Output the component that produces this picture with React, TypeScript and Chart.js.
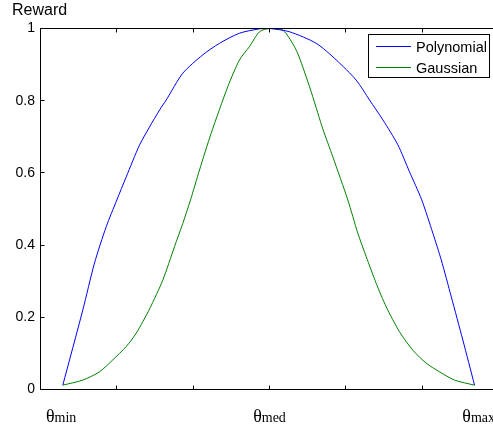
import { useEffect, useRef } from "react";
import { Chart, registerables } from "chart.js";

Chart.register(...registerables);

// Data (x in tick units, 0..6 across the axes box)
const polyX = [0.292, 0.554, 0.707, 0.861, 1.0, 1.123, 1.297, 1.428, 1.559, 1.647, 1.864, 2.126, 2.345, 2.607, 2.869, 3.0, 3.262, 3.612, 3.874, 4.136, 4.31, 4.485, 4.681, 4.834, 4.991, 5.14, 5.25, 5.381, 5.533, 5.686];
const polyY = [0.012, 0.22, 0.35, 0.451, 0.525, 0.589, 0.677, 0.727, 0.774, 0.802, 0.876, 0.927, 0.959, 0.987, 0.999, 1.0, 0.991, 0.959, 0.913, 0.857, 0.802, 0.747, 0.678, 0.603, 0.527, 0.433, 0.359, 0.257, 0.137, 0.012];
const gaussX = [0.292, 0.554, 0.773, 0.947, 1.123, 1.254, 1.428, 1.602, 1.756, 1.864, 1.965, 2.083, 2.236, 2.454, 2.607, 2.738, 2.869, 3.0, 3.174, 3.35, 3.481, 3.567, 3.698, 3.829, 4.026, 4.157, 4.267, 4.398, 4.529, 4.703, 4.877, 5.053, 5.227, 5.424, 5.686];
const gaussY = [0.012, 0.026, 0.049, 0.082, 0.119, 0.156, 0.223, 0.303, 0.396, 0.46, 0.525, 0.608, 0.71, 0.839, 0.913, 0.95, 0.991, 1.0, 0.996, 0.94, 0.866, 0.811, 0.722, 0.645, 0.525, 0.433, 0.368, 0.294, 0.229, 0.16, 0.109, 0.073, 0.049, 0.026, 0.012];

const seriesNames = ["Polynomial", "Gaussian"];
const seriesColors = ["#0000ff", "#008000"];
const yTicks = [0, 0.2, 0.4, 0.6, 0.8, 1];
const xTicks = [1, 2, 3, 4, 5];
const thetaPositions = [0.27, 3, 5.74];
const thetaSubs = ["min", "med", "max"];
const yTitle = "Reward";

const SANS = "'Liberation Sans', Arial, sans-serif";
const SERIF = "'Liberation Serif', 'Times New Roman', serif";

const CANVAS_W = 560;
const CANVAS_H = 429;

const matlabPlugin = {
  id: "matlabDecor",
  afterDatasetsDraw(chart: any) {
    const { ctx, chartArea: a, scales } = chart;
    const x = scales.x;
    const y = scales.y;
    ctx.save();
    ctx.strokeStyle = "#000";
    ctx.lineWidth = 1;
    // inward tick marks
    ctx.beginPath();
    for (const v of xTicks) {
      const px = Math.floor(x.getPixelForValue(v)) + 0.5;
      ctx.moveTo(px, a.bottom);
      ctx.lineTo(px, a.bottom - 4);
      ctx.moveTo(px, a.top);
      ctx.lineTo(px, a.top + 4);
    }
    for (const v of yTicks) {
      const py = Math.floor(y.getPixelForValue(v)) + 0.5;
      ctx.moveTo(a.left, py);
      ctx.lineTo(a.left + 4, py);
      ctx.moveTo(a.right, py);
      ctx.lineTo(a.right - 4, py);
    }
    ctx.stroke();
    // axes box
    ctx.strokeRect(a.left, a.top, a.right - a.left, a.bottom - a.top);

    // legend
    const lx = a.right - 130;
    const ly = a.top + 6;
    const lw = 121;
    const lh = 43;
    ctx.fillStyle = "#fff";
    ctx.fillRect(lx, ly, lw, lh);
    ctx.strokeStyle = "#000";
    ctx.strokeRect(lx, ly, lw, lh);
    ctx.font = `14.5px ${SANS}`;
    ctx.textAlign = "left";
    ctx.textBaseline = "alphabetic";
    seriesNames.forEach((name, i) => {
      const rowY = ly + 11.5 + i * 21.3;
      ctx.strokeStyle = seriesColors[i];
      ctx.beginPath();
      ctx.moveTo(lx + 7.5, Math.floor(rowY) + 0.5);
      ctx.lineTo(lx + 42.5, Math.floor(rowY) + 0.5);
      ctx.stroke();
      ctx.fillStyle = "#000";
      ctx.fillText(name, lx + 47.5, rowY + 5.5);
    });

    // theta labels under x axis
    ctx.fillStyle = "#000";
    thetaPositions.forEach((pos, i) => {
      const cx = x.getPixelForValue(pos);
      ctx.font = `18px ${SERIF}`;
      const w1 = ctx.measureText("\u03b8").width;
      ctx.font = `14px ${SERIF}`;
      const w2 = ctx.measureText(thetaSubs[i]).width;
      const start = cx - (w1 + w2) / 2;
      ctx.font = `18px ${SERIF}`;
      ctx.fillText("\u03b8", start, 421.5);
      ctx.font = `14px ${SERIF}`;
      ctx.fillText(thetaSubs[i], start + w1, 421.5);
    });

    // y title
    ctx.font = `16px ${SANS}`;
    ctx.fillText(yTitle, 12, 15);
    ctx.restore();
  },
};

export default function App() {
  const canvasRef = useRef<HTMLCanvasElement | null>(null);

  useEffect(() => {
    const canvas = canvasRef.current;
    if (!canvas) return;
    const chart = new Chart(canvas, {
      type: "scatter",
      data: {
        datasets: [
          {
            label: seriesNames[0],
            data: polyX.map((v, i) => ({ x: v, y: polyY[i] })),
            borderColor: seriesColors[0],
            backgroundColor: seriesColors[0],
            borderWidth: 1,
            showLine: true,
            pointRadius: 0,
            tension: 0.25,
          },
          {
            label: seriesNames[1],
            data: gaussX.map((v, i) => ({ x: v, y: gaussY[i] })),
            borderColor: seriesColors[1],
            backgroundColor: seriesColors[1],
            borderWidth: 1,
            showLine: true,
            pointRadius: 0,
            tension: 0.25,
          },
        ],
      },
      options: {
        responsive: false,
        animation: false,
        devicePixelRatio: 1,
        layout: { padding: { left: 8, right: CANVAS_W - 498.5, top: 28.5, bottom: CANVAS_H - 389.5 } },
        plugins: { legend: { display: false }, tooltip: { enabled: false } },
        scales: {
          x: { type: "linear", min: 0, max: 6, display: false },
          y: {
            type: "linear",
            min: 0,
            max: 1,
            afterFit: (scale: any) => {
              scale.width = 32.5;
            },
            afterBuildTicks: (scale: any) => {
              scale.ticks = yTicks.map((v) => ({ value: v }));
            },
            grid: { display: false, drawTicks: false },
            border: { display: false },
            ticks: {
              padding: 5.5,
              color: "#000",
              font: { family: SANS, size: 14 },
              callback: (v: any) => String(Math.round(Number(v) * 10) / 10),
            },
          },
        },
      },
      plugins: [matlabPlugin],
    });
    return () => chart.destroy();
  }, []);

  return (
    <div style={{ position: "fixed", left: 0, top: 0, width: 493, height: 429, overflow: "hidden", background: "#fff" }}>
      <canvas ref={canvasRef} width={CANVAS_W} height={CANVAS_H} style={{ display: "block", width: CANVAS_W, height: CANVAS_H }} />
    </div>
  );
}
